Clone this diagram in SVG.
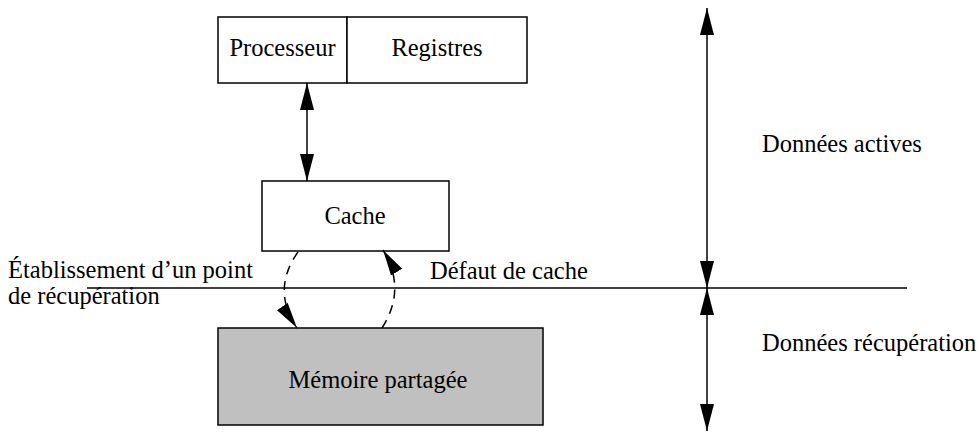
<svg xmlns="http://www.w3.org/2000/svg" width="979" height="432" viewBox="0 0 979 432">
<defs>
<style>
.box{fill:#fff;stroke:#000;stroke-width:1.5}
.mem{fill:#c0c0c0;stroke:#000;stroke-width:1.5}
.t{font-family:"Liberation Serif","Times New Roman",serif;font-size:24.5px;fill:#000}
.ln{fill:none;stroke:#000;stroke-width:1.5}
.dash{fill:none;stroke:#000;stroke-width:1.5;stroke-dasharray:9,7}
</style>
<marker id="ah" viewBox="0 0 27 14" refX="27" refY="7" markerWidth="27" markerHeight="14" markerUnits="userSpaceOnUse" orient="auto-start-reverse">
<path d="M0,0 L27,7 L0,14 Z" fill="#000"/>
</marker>
<marker id="ahs" viewBox="0 0 26 13" refX="26" refY="6.5" markerWidth="26" markerHeight="13" markerUnits="userSpaceOnUse" orient="auto">
<path d="M0,0 L26,6.5 L0,13 Z" fill="#000"/>
</marker>
</defs>
<g id="proc">
<rect class="box" x="218" y="17" width="129" height="66"/>
<text class="t" x="282.5" y="56" text-anchor="middle">Processeur</text>
</g>
<g id="regs">
<rect class="box" x="347" y="17" width="180" height="66"/>
<text class="t" x="437" y="56" text-anchor="middle">Registres</text>
</g>
<g id="cache">
<rect class="box" x="262" y="181" width="187" height="70"/>
<text class="t" x="355" y="224" text-anchor="middle">Cache</text>
</g>
<g id="mem">
<rect class="mem" x="218" y="328" width="325" height="97"/>
<text class="t" x="378" y="388" text-anchor="middle">Mémoire partagée</text>
</g>
<g id="labels">
<text class="t" x="8" y="278">Établissement d’un point</text>
<text class="t" x="8" y="304">de récupération</text>
<text class="t" x="430" y="279">Défaut de cache</text>
<text class="t" x="762" y="152">Données actives</text>
<text class="t" x="762" y="351">Données récupération</text>
</g>
<g id="connectors">
<line class="ln" x1="87" y1="288" x2="907" y2="288"/>
<line class="ln" x1="307" y1="83" x2="307" y2="181" marker-start="url(#ah)" marker-end="url(#ah)"/>
<line class="ln" x1="707" y1="8" x2="707" y2="288" marker-start="url(#ah)" marker-end="url(#ah)"/>
<line class="ln" x1="707" y1="288" x2="707" y2="431" marker-start="url(#ah)" marker-end="url(#ah)"/>
<path class="dash" d="M298,252 Q271,290 297,328" marker-end="url(#ahs)"/>
<path class="dash" d="M382,328 Q407,289 383,250" marker-end="url(#ahs)"/>
</g>
</svg>
